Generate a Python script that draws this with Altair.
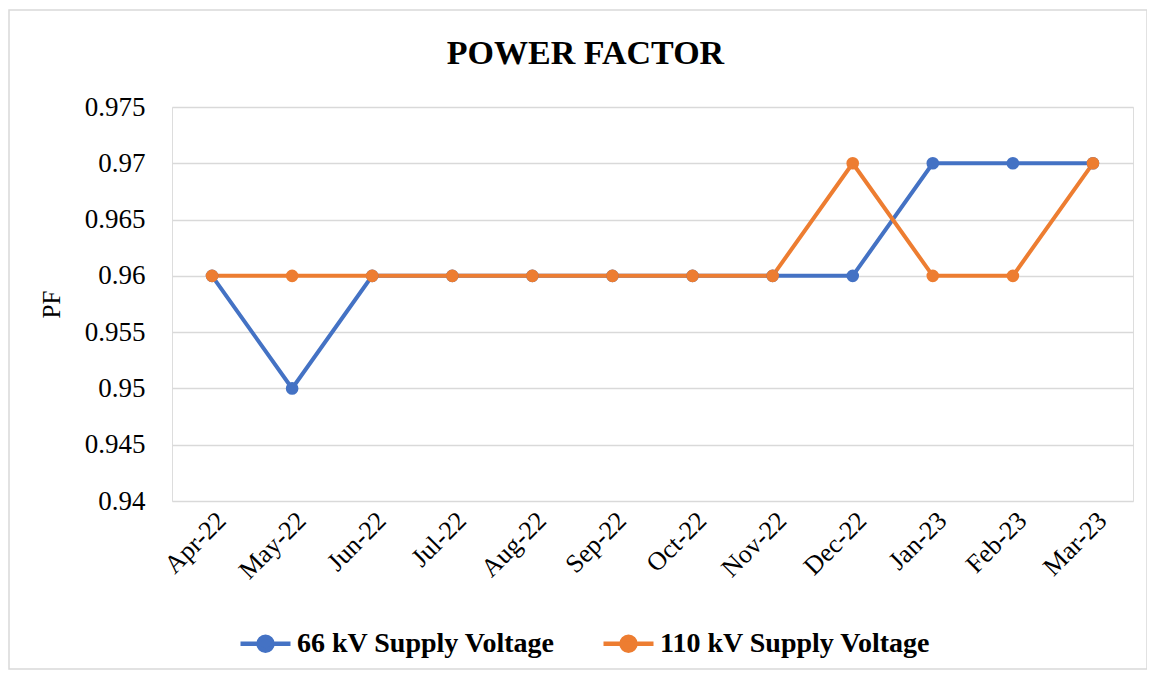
import altair as alt
import pandas as pd

months = ["Apr-22", "May-22", "Jun-22", "Jul-22", "Aug-22", "Sep-22",
          "Oct-22", "Nov-22", "Dec-22", "Jan-23", "Feb-23", "Mar-23"]
pf_66 = [0.96, 0.95, 0.96, 0.96, 0.96, 0.96, 0.96, 0.96, 0.96, 0.97, 0.97, 0.97]
pf_110 = [0.96, 0.96, 0.96, 0.96, 0.96, 0.96, 0.96, 0.96, 0.97, 0.96, 0.96, 0.97]
series = ["66 kV Supply Voltage", "110 kV Supply Voltage"]
colors = ["#4472C4", "#ED7D31"]
y_ticks = [0.94, 0.945, 0.95, 0.955, 0.96, 0.965, 0.97, 0.975]

rows = []
for s, vals in zip(series, [pf_66, pf_110]):
    for i, (m, v) in enumerate(zip(months, vals)):
        rows.append({"Month": m, "PF": v, "Series": s, "order": i})
df = pd.DataFrame(rows)

FONT = "Liberation Serif"

base = alt.Chart(df).encode(
    x=alt.X("Month:N", sort=months, scale=alt.Scale(paddingOuter=0.5, paddingInner=0),
            axis=alt.Axis(title=None, labelAngle=-45, labelFontSize=26, labelFont=FONT,
                          labelColor="#000000", ticks=False, domain=False, grid=False,
                          labelPadding=6)),
    y=alt.Y("PF:Q", scale=alt.Scale(domain=[0.94, 0.975], zero=False, nice=False),
            axis=alt.Axis(title="PF", values=y_ticks, format="~g", labelFontSize=27,
                          labelFont=FONT, labelColor="#000000", titleFont=FONT,
                          titleFontSize=25, titleFontWeight="normal", titleColor="#000000",
                          ticks=False, domain=False, gridColor="#D9D9D9", gridWidth=1.5,
                          labelPadding=27, titlePadding=20)),
    color=alt.Color("Series:N", sort=series,
                    scale=alt.Scale(domain=series, range=colors),
                    legend=alt.Legend(title=None, orient="none", direction="horizontal",
                                      legendX=66, legendY=509,
                                      labelFont=FONT, labelFontSize=28, labelFontWeight="bold",
                                      labelColor="#000000", labelLimit=0,
                                      symbolType="M-1,0L1,0M0.28,0A0.28,0.28 0 1,1 -0.28,0A0.28,0.28 0 1,1 0.28,0Z",
                                      symbolSize=2500, symbolStrokeWidth=4.5,
                                      columnPadding=38, labelOffset=4)),
    order="order:Q",
)

lines = base.mark_line(strokeWidth=4)
points = base.mark_circle(size=160, opacity=1)

frame = alt.Chart(pd.DataFrame({"k": [0]})).mark_rect(
    fill="transparent", stroke="#D9D9D9", strokeWidth=1.5
).encode(x=alt.value(-163), x2=alt.value(975), y=alt.value(-97), y2=alt.value(562))

chart = alt.layer(frame, lines, points).properties(
    width=961, height=394,
    padding={"left": 164, "top": 99, "right": 14, "bottom": 169},
    autosize=alt.AutoSizeParams(type="none"),
    title=alt.Title("POWER FACTOR", font=FONT, fontSize=34, fontWeight="bold",
                    color="#000000", anchor="middle", frame="group", dx=-67,
                    offset=0, dy=62),
).configure_view(strokeOpacity=0, strokeWidth=0).configure(background="white")

chart.save("out.html", embed_options={"renderer": "svg", "actions": False})
